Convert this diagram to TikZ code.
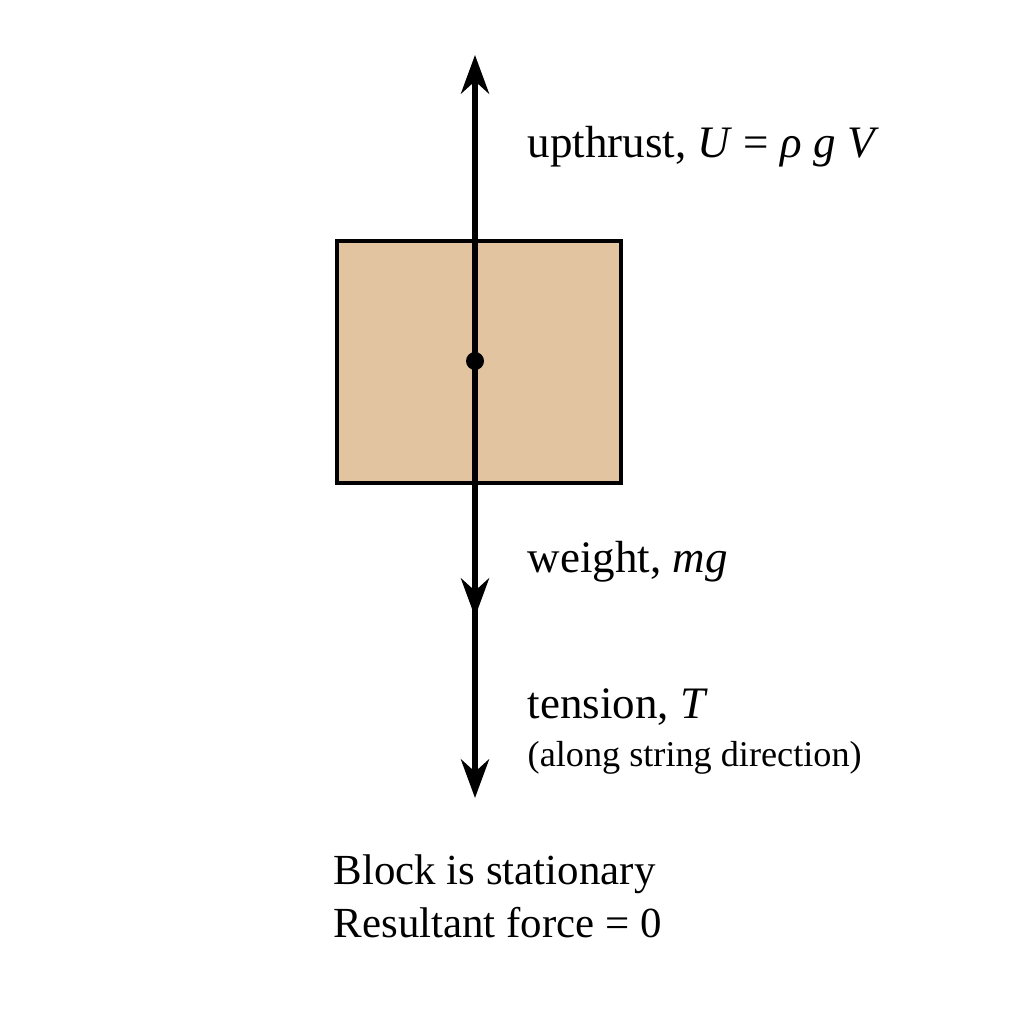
\documentclass[tikz,border=0pt]{standalone}
\usepackage{fontspec}
\setmainfont{Liberation Serif}
\usetikzlibrary{arrows.meta}
\begin{document}
\begin{tikzpicture}[x=0.01cm,y=-0.01cm,
  force/.style={line width=1.6pt,-{Stealth[length=11pt,width=8pt]}},
  lab/.style={anchor=base west,inner sep=0pt,font=\fontsize{12.8}{15}\selectfont}]
\useasboundingbox (0,0) rectangle (1024,1024);
\definecolor{wood}{RGB}{226,197,160}
\path[draw,line width=1.2pt,fill=wood] (337,241) rectangle (621,483);
\coordinate (c) at (475,361);
\coordinate (top) at (475,55);
\coordinate (w) at (475,617);
\coordinate (t) at (475,798);
\coordinate (w1) at (475,590);
\coordinate (w2) at (475,640);
\draw[force] (c) -- (top);
\draw[force] (c) -- (w);
\draw[line width=1.6pt] (w1) -- (w2);
\draw[force] (w) -- (t);
\fill (c) circle (9);
\node[lab] (u) at (527,157) {upthrust, \textit{U} = \textit{ρ g V}};
\node[lab] (wl) at (527,572) {weight, \textit{mg}};
\node[lab] (tl) at (527,718) {tension, \textit{T}};
\node[lab,font=\fontsize{10.3}{13}\selectfont] (tl2) at (527,766) {(along string direction)};
\node[lab,font=\fontsize{12.2}{15}\selectfont] (s1) at (333,884) {Block is stationary};
\node[lab,font=\fontsize{12.2}{15}\selectfont] (s2) at (333,937) {Resultant force = 0};
\end{tikzpicture}
\end{document}
